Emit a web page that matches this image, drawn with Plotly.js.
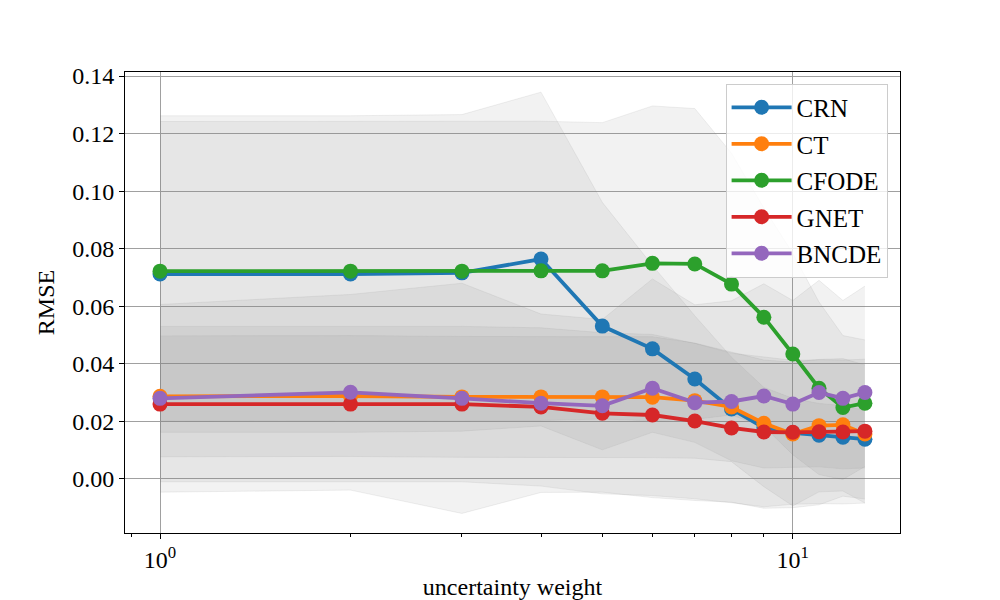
<!DOCTYPE html>
<html>
<head>
<meta charset="utf-8">
<script src="https://cdn.plot.ly/plotly-3.0.1.min.js"></script>
<style>
html,body{margin:0;padding:0;background:#fff;}
#chart{width:1000px;height:600px;}
</style>
</head>
<body>
<div id="chart"></div>
<script>
// ---- data ----
const weights = [1, 2, 3, 4, 5, 6, 7, 8, 9, 10, 11, 12, 13];
const seriesNames = ["CRN", "CT", "CFODE", "GNET", "BNCDE"];

const crnMean   = [0.0712, 0.0712, 0.0716, 0.0764, 0.0531, 0.0452, 0.0347, 0.0243, 0.0178, 0.0160, 0.0152, 0.0145, 0.0138];
const ctMean    = [0.0287, 0.0288, 0.0285, 0.0285, 0.0285, 0.0284, 0.0272, 0.0250, 0.0193, 0.0156, 0.0185, 0.0188, 0.0156];
const cfodeMean = [0.0722, 0.0722, 0.0722, 0.0723, 0.0723, 0.0749, 0.0747, 0.0677, 0.0562, 0.0434, 0.0315, 0.0248, 0.0263];
const gnetMean  = [0.0260, 0.0260, 0.0260, 0.0250, 0.0228, 0.0222, 0.0201, 0.0177, 0.0163, 0.0162, 0.0164, 0.0163, 0.0166];
const bncdeMean = [0.0280, 0.0301, 0.0280, 0.0263, 0.0254, 0.0315, 0.0265, 0.0269, 0.0288, 0.0260, 0.0300, 0.0280, 0.0300];

const crnStd   = [0.055, 0.055, 0.055, 0.058, 0.043, 0.029, 0.022, 0.018, 0.014, 0.012, 0.011, 0.011, 0.010];
const ctStd    = [0.021, 0.021, 0.021, 0.021, 0.021, 0.021, 0.020, 0.019, 0.022, 0.025, 0.023, 0.023, 0.024];
const cfodeStd = [0.052, 0.052, 0.052, 0.052, 0.0515, 0.0547, 0.054, 0.0455, 0.038, 0.035, 0.030, 0.025, 0.022];
const gnetStd  = [0.027, 0.027, 0.027, 0.0275, 0.028, 0.028, 0.027, 0.026, 0.026, 0.025, 0.025, 0.025, 0.025];
const bncdeStd = [0.0326, 0.034, 0.040, 0.031, 0.030, 0.038, 0.034, 0.035, 0.039, 0.036, 0.039, 0.034, 0.037];

const yTickVals = [0.00, 0.02, 0.04, 0.06, 0.08, 0.10, 0.12, 0.14];
const xTickVals = [1, 10];
const xTickText = ["10<sup>0</sup>", "10<sup>1</sup>"];
const xMinorVals = [0.9, 2, 3, 4, 5, 6, 7, 8, 9];

// ---- styling ----
const colors = ["#1f77b4", "#ff7f0e", "#2ca02c", "#d62728", "#9467bd"];
const means = [crnMean, ctMean, cfodeMean, gnetMean, bncdeMean];
const stds = [crnStd, ctStd, cfodeStd, gnetStd, bncdeStd];
const FONT = "Liberation Serif";
const bandFill = "rgba(128,128,128,0.1)";
const bandEdge = "rgba(128,128,128,0.12)";

const traces = [];
// bands first
means.forEach((m, i) => {
  const lower = m.map((v, j) => v - stds[i][j]);
  const upper = m.map((v, j) => v + stds[i][j]);
  traces.push({
    x: weights, y: lower, type: "scatter", mode: "lines",
    line: {color: bandEdge, width: 1}, showlegend: false, hoverinfo: "skip",
    legendgroup: seriesNames[i]
  });
  traces.push({
    x: weights, y: upper, type: "scatter", mode: "lines", fill: "tonexty",
    fillcolor: bandFill,
    line: {color: bandEdge, width: 1}, showlegend: false, hoverinfo: "skip",
    legendgroup: seriesNames[i]
  });
});
// lines
means.forEach((m, i) => {
  traces.push({
    x: weights, y: m, type: "scatter", mode: "lines+markers",
    name: seriesNames[i], legendgroup: seriesNames[i],
    line: {color: colors[i], width: 3.8},
    marker: {color: colors[i], size: 15, symbol: "circle"}
  });
});

const layout = {
  width: 1000, height: 600,
  margin: {l: 125, r: 100, t: 72, b: 67},
  paper_bgcolor: "#fff", plot_bgcolor: "#fff",
  font: {family: FONT, size: 24, color: "#000"},
  showlegend: true,
  xaxis: {
    type: "log",
    range: [Math.log10(0.8804), Math.log10(14.77)],
    tickmode: "array", tickvals: xTickVals, ticktext: xTickText,
    ticks: "outside", ticklen: 5, tickwidth: 1, tickcolor: "#000",
    showgrid: true, gridcolor: "#a0a0a0", gridwidth: 1,
    showline: true, linecolor: "#000", linewidth: 1, mirror: true,
    zeroline: false,
    tickfont: {family: FONT, size: 24, color: "#000"},
    minor: {tickmode: "array", tickvals: xMinorVals, ticks: "outside", ticklen: 3, tickwidth: 1, tickcolor: "#000", showgrid: false},
    title: {text: "uncertainty weight", font: {family: FONT, size: 24, color: "#000"}, standoff: 6}
  },
  yaxis: {
    range: [-0.0188, 0.1414],
    tickmode: "array", tickvals: yTickVals, tickformat: ".2f",
    ticks: "outside", ticklen: 5, tickwidth: 1, tickcolor: "#000",
    showgrid: true, gridcolor: "#a0a0a0", gridwidth: 1,
    showline: true, linecolor: "#000", linewidth: 1, mirror: true,
    zeroline: false,
    tickfont: {family: FONT, size: 24, color: "#000"},
    title: {text: "RMSE", font: {family: FONT, size: 24, color: "#000"}, standoff: 10}
  },
  legend: {
    x: 0.984, y: 0.975, xanchor: "right", yanchor: "top",
    bgcolor: "rgba(255,255,255,0.8)", bordercolor: "#cccccc", borderwidth: 1,
    font: {family: FONT, size: 25, color: "#000"},
    itemwidth: 60, tracegroupgap: 1
  }
};

Plotly.newPlot("chart", traces, layout, {staticPlot: true, displayModeBar: false});
</script>
</body>
</html>
